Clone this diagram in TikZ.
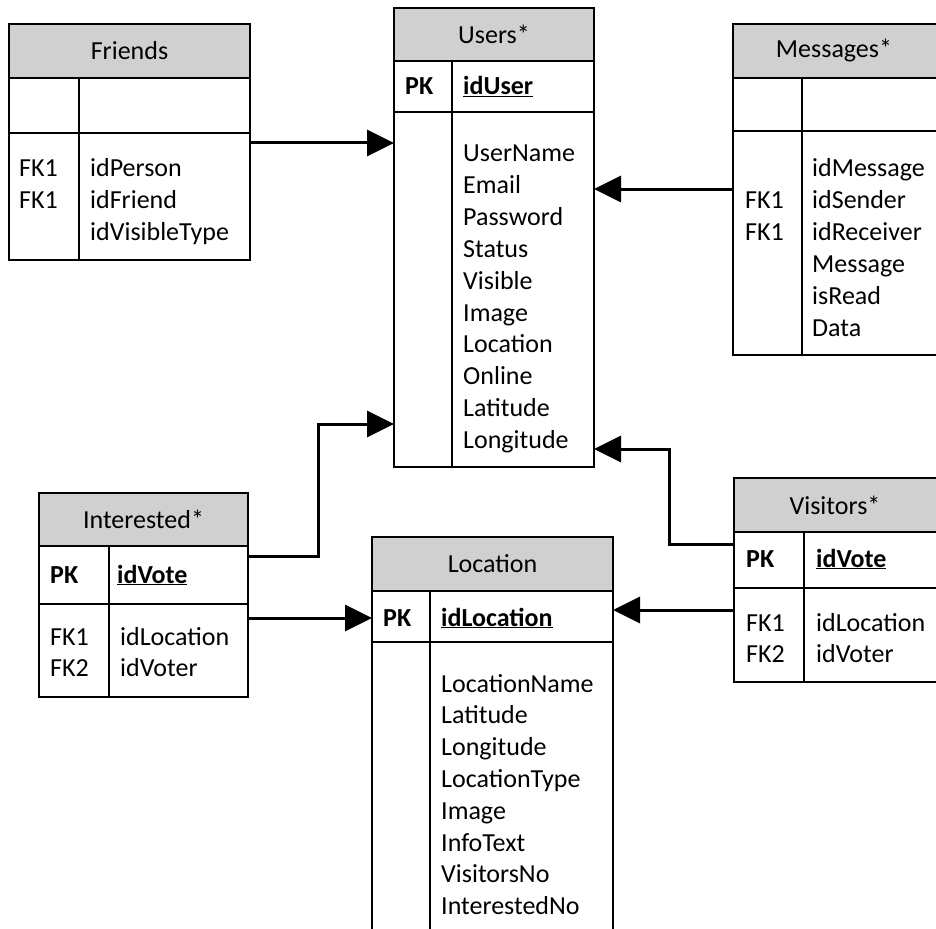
\documentclass[tikz,border=0pt]{standalone}
\usepackage{fontspec}
\setmainfont{Carlito}
\usetikzlibrary{arrows.meta}

\definecolor{hdrgray}{RGB}{208,208,208}
\tikzset{
  tbl/.style={draw, line width=2pt, inner sep=0pt, outer sep=0pt, anchor=north west},
  hdr/.style={tbl, fill=hdrgray},
  col/.style={line width=2pt},
  fld/.style={anchor=base west, inner sep=0pt},
  key/.style={fld, font=\fontsize{26}{32}\selectfont\bfseries},
  link/.style={line width=3pt, -{Triangle[length=27pt,width=26pt]}},
}

\begin{document}
\begin{tikzpicture}[x=1pt, y=-1pt, font=\fontsize{26}{32}\selectfont]
\useasboundingbox (0,0) rectangle (936,928);

% Users
\node[hdr, minimum width=200pt, minimum height=53pt] (us-hd) at (394,8) {Users*};
\node[tbl, minimum width=200pt, minimum height=51pt] (us-pk) at (us-hd.south west) {};
\node[tbl, minimum width=200pt, minimum height=355pt] (us-body) at (us-pk.south west) {};
\draw[col] (452,61) -- (452,467);
\node[key] (us-pkl) at (405,95) {PK};
\node[key] (us-id) at (463,95) {\underline{idUser}};
\foreach \f [count=\i from 0] in {UserName,Email,Password,Status,Visible,Image,Location,Online,Latitude,Longitude}
  \node[fld] (us-f\i) at (463,{162+31.8*\i}) {\f};

% Friends
\node[hdr, minimum width=241pt, minimum height=54pt] (fr-hd) at (9,24) {Friends};
\node[tbl, minimum width=241pt, minimum height=55pt] (fr-pk) at (fr-hd.south west) {};
\node[tbl, minimum width=241pt, minimum height=127pt] (fr-body) at (fr-pk.south west) {};
\draw[col] (79,78) -- (79,260);
\foreach \k [count=\i from 0] in {FK1,FK1}
  \node[fld] (fr-k\i) at (19,{177+31.8*\i}) {\k};
\foreach \f [count=\i from 0] in {idPerson,idFriend,idVisibleType}
  \node[fld] (fr-f\i) at (90,{177+31.8*\i}) {\f};

% Messages
\node[hdr, minimum width=210pt, minimum height=54pt] (ms-hd) at (733,24) {\hspace*{-8pt}Messages*};
\node[tbl, minimum width=210pt, minimum height=53pt] (ms-pk) at (ms-hd.south west) {};
\node[tbl, minimum width=210pt, minimum height=224pt] (ms-body) at (ms-pk.south west) {};
\draw[col] (802,78) -- (802,355);
\foreach \k [count=\i from 1] in {FK1,FK1}
  \node[fld] (ms-k\i) at (745,{177+31.8*\i}) {\k};
\foreach \f [count=\i from 0] in {idMessage,idSender,idReceiver,Message,isRead,Data}
  \node[fld] (ms-f\i) at (812,{177+31.8*\i}) {\f};

% Interested
\node[hdr, minimum width=209pt, minimum height=53pt] (in-hd) at (39,493) {Interested*};
\node[tbl, minimum width=209pt, minimum height=58pt] (in-pk) at (in-hd.south west) {};
\node[tbl, minimum width=209pt, minimum height=93pt] (in-body) at (in-pk.south west) {};
\draw[col] (109,546) -- (109,697);
\node[key] (in-pkl) at (50,583) {PK};
\node[key] (in-id) at (117,583) {\underline{idVote}};
\foreach \k [count=\i from 0] in {FK1,FK2}
  \node[fld] (in-k\i) at (50,{645+31.8*\i}) {\k};
\foreach \f [count=\i from 0] in {idLocation,idVoter}
  \node[fld] (in-f\i) at (120,{645+31.8*\i}) {\f};

% Location
\node[hdr, minimum width=241pt, minimum height=54pt] (lo-hd) at (372,537) {Location};
\node[tbl, minimum width=241pt, minimum height=51pt] (lo-pk) at (lo-hd.south west) {};
\node[tbl, minimum width=241pt, minimum height=330pt] (lo-body) at (lo-pk.south west) {};
\draw[col] (430,591) -- (430,972);
\node[key] (lo-pkl) at (383,626) {PK};
\node[key] (lo-id) at (441,626) {\underline{idLocation}};
\foreach \f [count=\i from 0] in {LocationName,Latitude,Longitude,LocationType,Image,InfoText,VisitorsNo,InterestedNo}
  \node[fld] (lo-f\i) at (441,{692+31.8*\i}) {\f};

% Visitors
\node[hdr, minimum width=210pt, minimum height=54pt] (vi-hd) at (734,478) {\hspace*{-8pt}Visitors*};
\node[tbl, minimum width=210pt, minimum height=56pt] (vi-pk) at (vi-hd.south west) {};
\node[tbl, minimum width=210pt, minimum height=94pt] (vi-body) at (vi-pk.south west) {};
\draw[col] (804,532) -- (804,682);
\node[key] (vi-pkl) at (746,567) {PK};
\node[key] (vi-id) at (816,567) {\underline{idVote}};
\foreach \k [count=\i from 0] in {FK1,FK2}
  \node[fld] (vi-k\i) at (746,{631+31.8*\i}) {\k};
\foreach \f [count=\i from 0] in {idLocation,idVoter}
  \node[fld] (vi-f\i) at (816,{631+31.8*\i}) {\f};

% links
\coordinate (fr-l1) at ([yshift=-10pt]fr-body.north east);
\coordinate (ms-l1) at ([yshift=-58pt]ms-body.north west);
\coordinate (in-l1) at ([yshift=-10pt]in-pk.north east);
\coordinate (in-l2) at ([yshift=-14pt]in-body.north east);
\coordinate (vi-l1) at ([yshift=-12pt]vi-pk.north west);
\coordinate (vi-l2) at ([yshift=-22pt]vi-body.north west);
\coordinate (us-l2) at ([yshift=-312pt]us-body.north west);
\coordinate (us-l3) at ([yshift=-337pt]us-body.north east);

\draw[link] (fr-l1) -- (fr-l1 -| us-body.west);
\draw[link] (ms-l1) -- (ms-l1 -| us-body.east);
\draw[link] (in-l1) -- ++(70,0) |- (us-l2);
\draw[link] (in-l2) -- (in-l2 -| lo-pk.west);
\draw[link] (vi-l1) -- ++(-65,0) |- (us-l3);
\draw[link] (vi-l2) -- (vi-l2 -| lo-pk.east);
\end{tikzpicture}
\end{document}
